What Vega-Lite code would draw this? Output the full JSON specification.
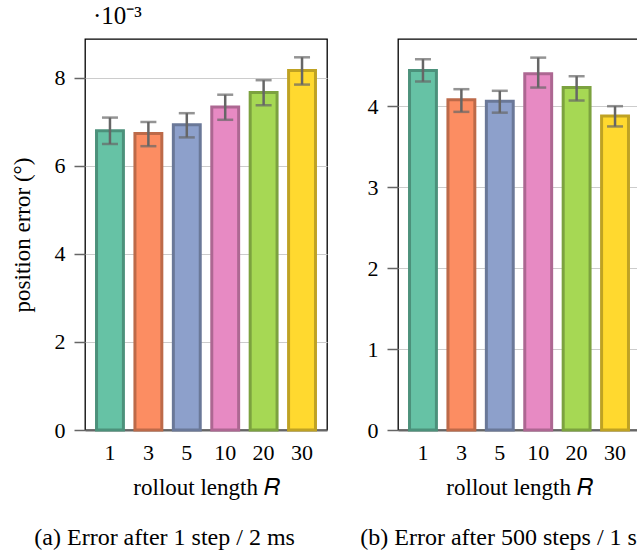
{
  "$schema": "https://vega.github.io/schema/vega-lite/v6.json",
  "background": "white",
  "padding": {"left": 10, "top": 3, "right": 0, "bottom": 0},
  "config": {
    "font": "Liberation Serif",
    "view": {"stroke": "black", "strokeWidth": 1.3},
    "axis": {
      "labelFont": "Liberation Serif",
      "titleFont": "Liberation Serif",
      "labelFontSize": 22,
      "titleFontSize": 23,
      "labelColor": "black",
      "titleColor": "black",
      "titleFontWeight": "normal"
    },
    "title": {"font": "Liberation Serif", "fontWeight": "normal", "color": "black"}
  },
  "datasets": {
    "a": [
      {"R": "1", "err": 6.80, "lo": 6.50, "hi": 7.10},
      {"R": "3", "err": 6.74, "lo": 6.45, "hi": 7.00},
      {"R": "5", "err": 6.94, "lo": 6.65, "hi": 7.20},
      {"R": "10", "err": 7.34, "lo": 7.05, "hi": 7.62},
      {"R": "20", "err": 7.67, "lo": 7.38, "hi": 7.95},
      {"R": "30", "err": 8.17, "lo": 7.85, "hi": 8.47}
    ],
    "b": [
      {"R": "1", "err": 4.44, "lo": 4.305, "hi": 4.58},
      {"R": "3", "err": 4.08, "lo": 3.93, "hi": 4.21},
      {"R": "5", "err": 4.06, "lo": 3.92, "hi": 4.19},
      {"R": "10", "err": 4.40, "lo": 4.23, "hi": 4.60},
      {"R": "20", "err": 4.23, "lo": 4.07, "hi": 4.37},
      {"R": "30", "err": 3.88, "lo": 3.75, "hi": 4.00}
    ]
  },
  "spacing": 32,
  "hconcat": [
    {
      "title": {"text": "(a) Error after 1 step / 2 ms", "orient": "bottom", "fontSize": 24, "offset": 26, "dx": 24},
      "vconcat": [
        {
          "title": {"text": "·10⁻³", "anchor": "start", "frame": "group", "fontSize": 25, "dx": 8, "offset": 10},
          "width": 242,
          "height": 391,
          "data": {"name": "a"},
          "encoding": {
            "x": {"field": "R", "type": "ordinal", "sort": ["1", "3", "5", "10", "20", "30"],
              "scale": {"paddingInner": 0.3, "paddingOuter": 0.3},
              "axis": {"title": "rollout length 𝑅", "labelAngle": 0, "ticks": false, "domainColor": "#666", "domainWidth": 2, "labelPadding": 12, "titlePadding": 13}}
          },
          "layer": [
            {
              "mark": {"type": "bar", "strokeWidth": 3},
              "encoding": {
                "y": {"field": "err", "type": "quantitative", "scale": {"domain": [0, 8.886], "nice": false},
                  "axis": {"title": "position error (°)", "values": [0, 2, 4, 6, 8], "format": "d", "domain": false, "tickColor": "#666", "tickSize": 11, "tickWidth": 1.5, "labelPadding": 9, "titlePadding": 20, "gridColor": "#ccc", "gridWidth": 1}},
                "fill": {"field": "R", "type": "nominal", "sort": ["1", "3", "5", "10", "20", "30"], "scale": {"range": ["#66c2a5", "#fc8d62", "#8da0cb", "#e78ac3", "#a6d854", "#ffd92f"]}, "legend": null},
                "stroke": {"field": "R", "type": "nominal", "sort": ["1", "3", "5", "10", "20", "30"], "scale": {"range": ["#4c917b", "#bd6a49", "#6a7898", "#ad6792", "#7ca23f", "#bfa223"]}, "legend": null}
              }
            },
            {
              "mark": {"type": "rule", "color": "#666", "strokeWidth": 2.5},
              "encoding": {"y": {"field": "lo", "type": "quantitative"}, "y2": {"field": "hi"}}
            },
            {
              "mark": {"type": "tick", "color": "#666", "size": 16, "thickness": 2.5},
              "encoding": {"y": {"field": "lo", "type": "quantitative"}}
            },
            {
              "mark": {"type": "tick", "color": "#666", "size": 16, "thickness": 2.5},
              "encoding": {"y": {"field": "hi", "type": "quantitative"}}
            }
          ]
        }
      ]
    },
    {
      "title": {"text": "(b) Error after 500 steps / 1 s", "orient": "bottom", "fontSize": 24, "offset": 26, "dx": -6},
      "vconcat": [
        {
          "title": {"text": " ", "anchor": "start", "frame": "group", "fontSize": 25, "dx": 8, "offset": 10},
          "width": 242,
          "height": 391,
          "data": {"name": "b"},
          "encoding": {
            "x": {"field": "R", "type": "ordinal", "sort": ["1", "3", "5", "10", "20", "30"],
              "scale": {"paddingInner": 0.3, "paddingOuter": 0.3},
              "axis": {"title": "rollout length 𝑅", "labelAngle": 0, "ticks": false, "domainColor": "#666", "domainWidth": 2, "labelPadding": 12, "titlePadding": 13}}
          },
          "layer": [
            {
              "mark": {"type": "bar", "strokeWidth": 3},
              "encoding": {
                "y": {"field": "err", "type": "quantitative", "scale": {"domain": [0, 4.83], "nice": false},
                  "axis": {"title": null, "values": [0, 1, 2, 3, 4], "format": "d", "domain": false, "tickColor": "#666", "tickSize": 11, "tickWidth": 1.5, "labelPadding": 9, "gridColor": "#ccc", "gridWidth": 1}},
                "fill": {"field": "R", "type": "nominal", "sort": ["1", "3", "5", "10", "20", "30"], "scale": {"range": ["#66c2a5", "#fc8d62", "#8da0cb", "#e78ac3", "#a6d854", "#ffd92f"]}, "legend": null},
                "stroke": {"field": "R", "type": "nominal", "sort": ["1", "3", "5", "10", "20", "30"], "scale": {"range": ["#4c917b", "#bd6a49", "#6a7898", "#ad6792", "#7ca23f", "#bfa223"]}, "legend": null}
              }
            },
            {
              "mark": {"type": "rule", "color": "#666", "strokeWidth": 2.5},
              "encoding": {"y": {"field": "lo", "type": "quantitative"}, "y2": {"field": "hi"}}
            },
            {
              "mark": {"type": "tick", "color": "#666", "size": 16, "thickness": 2.5},
              "encoding": {"y": {"field": "lo", "type": "quantitative"}}
            },
            {
              "mark": {"type": "tick", "color": "#666", "size": 16, "thickness": 2.5},
              "encoding": {"y": {"field": "hi", "type": "quantitative"}}
            }
          ]
        }
      ]
    }
  ]
}
